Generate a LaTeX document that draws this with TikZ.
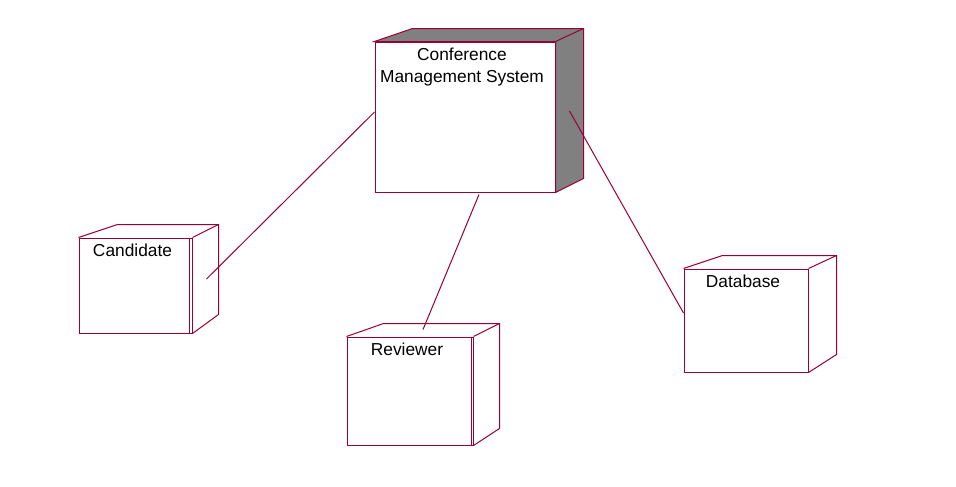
\documentclass[tikz,border=0pt]{standalone}
\usepackage{fontspec}
\setmainfont{Liberation Sans}
\usepackage{tikz}
\usetikzlibrary{positioning}
\definecolor{rosered}{RGB}{153,0,51}
\definecolor{sidegray}{RGB}{128,128,128}

\tikzset{
  rim/.style={draw=rosered, line width=0.75pt},
  front/.style={rim, rectangle, inner sep=0pt, fill=white},
  nodetext/.style={inner sep=0pt, anchor=north, align=center,
    font=\fontsize{13}{16.5}\selectfont, xshift=-2.25pt},
}

\begin{document}
\begin{tikzpicture}[x=0.75pt, y=-0.75pt]
  \useasboundingbox (0,0) rectangle (956,486);

  % front faces
  \node [front, minimum width=135pt, minimum height=112.5pt] (cms) at (465,117) {};
  \node [front, minimum width=84.75pt, minimum height=71.25pt] (candidate) at (135.5,285.5) {};
  \node [front, minimum width=94.5pt, minimum height=81pt] (reviewer) at (410,391) {};
  \node [front, minimum width=93pt, minimum height=77.25pt] (database) at (746,320.5) {};

  % 3d sides
  \filldraw [rim, fill=sidegray] (cms.north west) -- ++(38,-13) -| ([shift={(28,-14)}]cms.south east)
    -- (cms.south east) -- (cms.north east) -- cycle;
  \draw [rim] (cms.north east) -- ++(28,-13);

  \draw [rim] (candidate.north west) -- ++(39,-13) -| ([shift={(26,-19)}]candidate.south east)
    -- (candidate.south east);
  \draw [rim] (candidate.north east) -- ++(26,-13);
  \draw [rim] ([xshift=-2.25pt]candidate.north east) -- ([xshift=-2.25pt]candidate.south east);

  \draw [rim] (reviewer.north west) -- ++(37,-13) -| ([shift={(26,-17)}]reviewer.south east)
    -- (reviewer.south east);
  \draw [rim] (reviewer.north east) -- ++(26,-13);
  \draw [rim] ([xshift=-1.5pt]reviewer.north east) -- ([xshift=-1.5pt]reviewer.south east);

  \draw [rim] (database.north west) -- ++(39,-13) -| ([shift={(28,-18)}]database.south east)
    -- (database.south east);
  \draw [rim] (database.north east) -- ++(28,-13);

  % names
  \node [nodetext, below=4.5pt of cms.north] (cms-name) {Conference\\Management System};
  \node [nodetext, below=4.5pt of candidate.north] (candidate-name) {Candidate};
  \node [nodetext, below=4.5pt of reviewer.north] (reviewer-name) {Reviewer};
  \node [nodetext, below=4.5pt of database.north] (database-name) {Database};

  % links
  \draw [rim] ([shift={(0,-5)}]cms.west) -- ([shift={(14,-6.5)}]candidate.east);
  \draw [rim] ([shift={(14,2)}]cms.south) -- ([shift={(13,-7)}]reviewer.north);
  \draw [rim] ([shift={(14,-6)}]cms.east) -- ([shift={(0,-7.5)}]database.west);
\end{tikzpicture}
\end{document}
